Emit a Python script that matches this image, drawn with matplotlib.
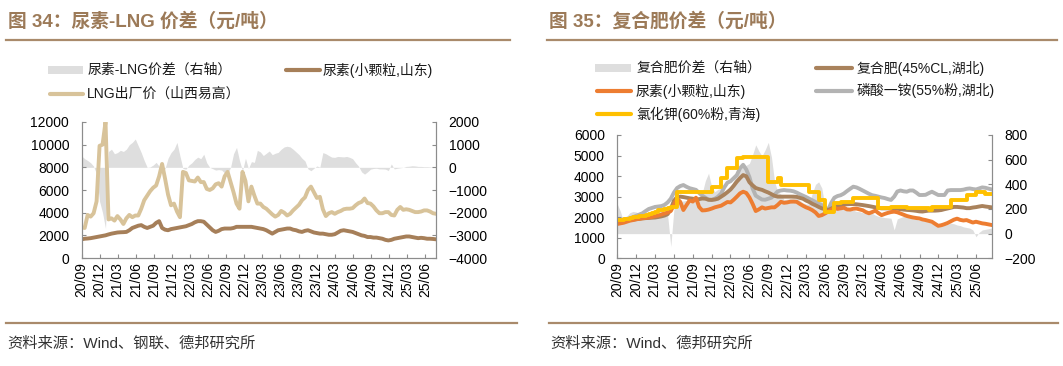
import numpy as np
import pandas as pd
import matplotlib
matplotlib.use('Agg')
import matplotlib.pyplot as plt
import matplotlib.dates as mdates
from matplotlib.lines import Line2D
from matplotlib.patches import Rectangle

plt.rcParams['font.family'] = ['Liberation Sans', 'Noto Sans CJK SC']

W, H = 1063, 366

# ---- 图34：半月频数据（2020/09 - 2025/07）----
dates_34 = pd.date_range('2020-09-01', '2025-07-25', periods=120)

lng_price = [
    2700, 2650, 3800, 3650, 3950, 5000, 9900, 10000,
    12000, 3400, 3500, 3300, 3700, 3400, 3000, 3500, 3800, 3600, 3750, 3750,
    4350, 5100, 5500, 5900, 6200, 6400, 7200, 8300, 7000, 5600, 4650, 4800,
    4100, 3600, 7600, 7500, 6850, 6800, 6750, 7100, 6700, 6700, 6100, 6000,
    6150, 6500, 6600, 6300, 7200, 7600, 6700, 5800, 4800, 4350, 7600, 6800,
    5000, 6300, 5500, 4800, 4800, 4500, 4350, 4100, 3850, 3650, 3800, 4150,
    4000, 3750, 3900, 4200, 4450, 4700, 5100, 5350, 6000, 6300, 5800, 5300,
    5400, 4300, 3700, 3950, 4050, 3900, 4050, 4150, 4300, 4350, 4350, 4400,
    4650, 4850, 4950, 5250, 4850, 4800, 4550, 4200, 3950, 3950, 4050, 4050,
    3800, 3750, 4250, 4500, 4250, 4300, 4250, 4150, 4050, 4050, 4100, 4200,
    4200, 4100, 3950, 3900,
]

urea_sd_34 = [
    1650, 1700, 1720, 1750, 1800, 1850, 1900, 1950,
    2000, 2080, 2150, 2200, 2250, 2270, 2280, 2300, 2450, 2650, 2750, 2850,
    2900, 2750, 2650, 2750, 2850, 3100, 3250, 2650, 2500, 2450, 2550, 2600,
    2650, 2700, 2750, 2800, 2900, 3000, 3150, 3250, 3250, 3200, 2950, 2700,
    2450, 2300, 2400, 2550, 2600, 2600, 2600, 2650, 2750, 2750, 2750, 2750,
    2750, 2750, 2700, 2650, 2600, 2550, 2450, 2300, 2150, 2300, 2450, 2500,
    2550, 2600, 2600, 2500, 2450, 2350, 2300, 2400, 2450, 2350, 2250, 2200,
    2150, 2150, 2100, 2050, 2050, 2100, 2250, 2400, 2450, 2400, 2350, 2300,
    2200, 2100, 2000, 1950, 1850, 1850, 1800, 1800, 1750, 1700, 1600, 1550,
    1600, 1700, 1750, 1800, 1850, 1900, 1900, 1850, 1800, 1750, 1780, 1750,
    1700, 1700, 1680, 1650,
]

spread_34 = [
    500, 380, 300, 200, 50, -300, -1500, -2000,
    -2700, 700, 800, 600, 650, 750, 700, 800, 1000, 1100, 1250, 950,
    650, 300, 0, 20, 100, 220, 50, -200, -50, 400, 650, 800,
    1100, 500, -50, -80, 100, 200, 350, 450, 380, 580, 200, 0,
    -60, -120, -100, -120, -250, -280, 0, 600, 880, 300, -150, 400,
    -50, 250, 220, 750, 680, 520, 620, 720, 560, 620, 660, 800,
    900, 930, 900, 800, 680, 560, 400, 280, -70, -150, -40, 60,
    10, 650, 600, 520, 450, 440, 480, 470, 460, 480, 440, 380,
    200, 50, -200, -300, -200, -80, -50, -40, -70, -70, -80, -140,
    150, -70, -40, -20, 0, 40, 50, 70, 60, 40, 40, 30,
    30, 20, 10, 0,
]

# ---- 图35：半月频数据（2020/09 - 2025/08）----
dates_35 = pd.date_range('2020-09-01', '2025-08-16', periods=120)

compound_hb = [
    1780, 1800, 1820, 1840, 1860, 1880, 1900, 1920,
    1945, 1955, 1965, 1975, 1985, 2010, 2040, 2080, 2150, 2400, 2800, 2980,
    3000, 2980, 2950, 2920, 2900, 2870, 2880, 2910, 2900, 2850, 2840, 2860,
    2900, 3000, 3100, 3220, 3350, 3530, 3730, 3900, 4050, 3990, 3700, 3550,
    3420, 3370, 3330, 3260, 3200, 3120, 3040, 3000, 3000, 3000, 3000, 3000,
    3000, 2990, 2940, 2900, 2810, 2740, 2650, 2580, 2500, 2430, 2390, 2350,
    2420, 2500, 2540, 2580, 2610, 2630, 2640, 2640, 2630, 2610, 2590, 2565,
    2540, 2510, 2480, 2450, 2430, 2430, 2430, 2430, 2430, 2410, 2390, 2370,
    2355, 2345, 2330, 2310, 2285, 2275, 2300, 2320, 2320, 2320, 2330, 2350,
    2390, 2425, 2460, 2500, 2500, 2485, 2470, 2440, 2440, 2470, 2490, 2520,
    2545, 2520, 2500, 2480,
]

urea_sd_35 = [
    1670, 1700, 1730, 1780, 1830, 1860, 1900, 1920,
    1945, 1960, 1980, 2010, 2050, 2080, 2130, 2180, 2230, 2300, 2600, 2900,
    2750, 2350, 2590, 2820, 2760, 2950, 2500, 2330, 2340, 2370, 2420, 2480,
    2520, 2560, 2650, 2740, 2720, 2850, 3000, 3160, 3240, 3180, 2960, 2650,
    2300, 2380, 2480, 2420, 2450, 2480, 2480, 2600, 2750, 2700, 2720, 2755,
    2760, 2750, 2650, 2560, 2480, 2420, 2340, 2230, 2060, 2100, 2180, 2270,
    2360, 2470, 2400, 2430, 2460, 2380, 2370, 2410, 2420, 2380, 2340, 2250,
    2190, 2250, 2320, 2200, 2100, 2160, 2210, 2250, 2270, 2240, 2180, 2120,
    2060, 2020, 1985, 1960, 1940, 1890, 1860, 1820, 1780, 1680, 1580, 1610,
    1660, 1720, 1800, 1880, 1930, 1870, 1840, 1860, 1800, 1740, 1780, 1740,
    1700, 1680, 1650, 1620,
]

map_hb = [
    1830, 1860, 1890, 1920, 1945, 2000, 2070, 2130,
    2190, 2300, 2400, 2450, 2500, 2520, 2540, 2600, 2720, 2900, 3200, 3420,
    3515, 3565, 3480, 3410, 3370, 3330, 3180, 3050, 2950, 2850, 2850, 2900,
    3000, 3150, 3450, 3680, 3750, 3900, 4050, 4380, 4550, 4320, 3950, 3400,
    3050, 2950, 2860, 2850, 2900, 2950, 3100, 3260, 3300, 3320, 3300, 3290,
    3260, 3200, 3120, 3050, 2980, 2900, 2820, 2740, 2660, 2590, 2480, 2350,
    2700, 2950, 3030, 3070, 3150, 3270, 3380, 3485, 3450, 3380, 3300, 3220,
    3140, 3070, 3040, 3000, 2960, 2930, 2880, 2840, 3000, 3250, 3300, 3260,
    3240, 3300, 3300, 3200, 3080, 3080, 3090, 3170, 3240, 3160, 3080, 3080,
    3080, 3300, 3320, 3320, 3320, 3320, 3340, 3380, 3400, 3370, 3350, 3400,
    3450, 3430, 3390, 3350,
]

kcl_qh = [
    1860, 1880, 1900, 1930, 1980, 2000, 2030, 2050,
    2060, 2100, 2150, 2220, 2260, 2330, 2350, 2380, 2430, 2480, 2510, 3240,
    3240, 3240, 3240, 3240, 3240, 3240, 3240, 3240, 3240, 3240, 3480, 3480,
    3480, 3890, 3890, 4380, 4380, 4380, 4860, 4860, 4940, 4940, 4940, 4940,
    4940, 4940, 4940, 4940, 3730, 3730, 3730, 3890, 3565, 3565, 3565, 3565,
    3565, 3565, 3565, 3565, 3565, 3240, 3240, 3240, 2835, 2835, 2270, 2270,
    2270, 2670, 2670, 2755, 2755, 2755, 2755, 2920, 2920, 2920, 2920, 2920,
    2920, 2920, 2920, 2430, 2430, 2430, 2430, 2480, 2480, 2480, 2480, 2480,
    2430, 2430, 2430, 2430, 2430, 2430, 2430, 2350, 2510, 2510, 2510, 2510,
    2510, 2510, 2835, 2835, 2835, 2835, 2835, 3080, 3080, 3080, 3240, 3240,
    3240, 3130, 3130, 3130,
]

spread_35 = [
    240, 180, 90, 140, 170, 180, 175, 165,
    160, 150, 155, 165, 175, 185, 185, 170, 150, -105, 200, 240,
    260, 265, 270, 285, 300, 285, 270, 330, 430, 490, 380, 340,
    360, 370, 330, 330, 380, 430, 500, 525, 545, 555, 570, 640,
    720, 670, 630, 680, 740, 620, 420, 340, 320, 275, 280, 285,
    295, 290, 270, 250, 240, 240, 330, 400, 420, 370, 220, 195,
    205, 200, 190, 195, 205, 200, 190, 190, 180, 178, 170, 165,
    165, 165, 150, 140, 135, 130, 128, 125, 30, 120, 130, 140,
    135, 125, 120, 115, 110, 105, 100, 95, 85, 80, 70, 70,
    70, 75, 85, 80, 70, 65, 55, 50, 45, 30, -25, 10,
    30, 35, 40, 45,
]

TITLE_C = '#9c7a58'
RULE_C = '#a98a6b'
AXIS_C = '#8c8c8c'
AREA_C = '#dedede'


def fx(x):
    return x / W


def fy(y):
    return 1 - y / H


fig = plt.figure(figsize=(W / 100, H / 100), dpi=100)


def make_axes(x0, y0, x1, y1):
    ax = fig.add_axes([fx(x0), fy(y1), (x1 - x0) / W, (y1 - y0) / H])
    ax2 = ax.twinx()
    ax.set_zorder(ax2.get_zorder() + 1)
    ax.patch.set_visible(False)
    for a in (ax, ax2):
        a.spines['top'].set_visible(False)
        for s in ('left', 'right', 'bottom'):
            a.spines[s].set_color(AXIS_C)
            a.spines[s].set_linewidth(0.8)
        a.tick_params(axis='y', direction='in', length=3, color=AXIS_C,
                      labelsize=10, pad=9)
    ax.tick_params(axis='x', direction='in', length=3, color=AXIS_C,
                   labelsize=10, pad=3)
    ax.xaxis.set_major_locator(mdates.MonthLocator(bymonth=[3, 6, 9, 12]))
    ax.xaxis.set_major_formatter(mdates.DateFormatter('%y/%m'))
    plt.setp(ax.get_xticklabels(), rotation=90, ha='center', va='top')
    return ax, ax2


def legend_item(kind, color, x0, x1, y, label, tx):
    if kind == 'area':
        fig.add_artist(Rectangle((fx(x0), fy(y + 4)), (x1 - x0) / W, 8 / H,
                                 transform=fig.transFigure, color=color, lw=0))
    else:
        fig.add_artist(Line2D([fx(x0), fx(x1)], [fy(y), fy(y)],
                              transform=fig.transFigure, color=color, lw=3,
                              solid_capstyle='round'))
    fig.text(fx(tx), fy(y), label, fontsize=10, va='center', ha='left',
             color='#1a1a1a')


def header(x0, x1, text):
    fig.text(fx(x0 + 2), fy(21), text, fontsize=13.5, weight='bold',
             color=TITLE_C, va='center', ha='left')
    fig.add_artist(Line2D([fx(x0), fx(x1)], [fy(40), fy(40)],
                          transform=fig.transFigure, color=RULE_C, lw=1.6))


def footer(x0, x1, text):
    fig.add_artist(Line2D([fx(x0), fx(x1)], [fy(323), fy(323)],
                          transform=fig.transFigure, color=RULE_C, lw=1.6))
    fig.text(fx(x0 + 1), fy(344), text, fontsize=11, color='#333333',
             va='center', ha='left')


# ---- 图34 ----
header(6, 510, '图 34：尿素-LNG 价差（元/吨）')
ax, ax2 = make_axes(81.7, 122, 436, 258)
ax2.fill_between(dates_34, 0, spread_34, color=AREA_C, lw=0)
ax.plot(dates_34, lng_price, color='#d8c39a', lw=2.8)
ax.plot(dates_34, urea_sd_34, color='#a67f59', lw=2.8)
ax.set_ylim(0, 12000)
ax.set_yticks(np.arange(0, 12001, 2000))
ax2.set_ylim(-4000, 2000)
ax2.set_yticks(np.arange(-4000, 2001, 1000))
ax.set_xlim(dates_34[0], dates_34[-1])

legend_item('area', AREA_C, 48, 83, 70, '尿素-LNG价差（右轴）', 88)
legend_item('line', '#a67f59', 286, 320, 70, '尿素(小颗粒,山东)', 323)
legend_item('line', '#d8c39a', 50, 83, 94, 'LNG出厂价（山西易高）', 87)
footer(6, 517, '资料来源：Wind、钢联、德邦研究所')

# ---- 图35 ----
header(547, 1057, '图 35：复合肥价差（元/吨）')
bx, bx2 = make_axes(617.3, 135, 991.7, 258.3)
bx2.fill_between(dates_35, 0, spread_35, color=AREA_C, lw=0)
bx.plot(dates_35, map_hb, color='#b3b3b3', lw=2.8)
bx.plot(dates_35, compound_hb, color='#a9825c', lw=2.8)
bx.plot(dates_35, urea_sd_35, color='#ed7d31', lw=2.8)
bx.plot(dates_35, kcl_qh, color='#ffc000', lw=2.8, drawstyle='steps-post')
bx.set_ylim(0, 6000)
bx.set_yticks(np.arange(0, 6001, 1000))
bx2.set_ylim(-200, 800)
bx2.set_yticks(np.arange(-200, 801, 200))
bx.set_xlim(dates_35[0], dates_35[-1])

legend_item('area', AREA_C, 595, 631, 68, '复合肥价差（右轴）', 637)
legend_item('line', '#a9825c', 816, 852, 68, '复合肥(45%CL,湖北)', 857)
legend_item('line', '#ed7d31', 597, 631, 91, '尿素(小颗粒,山东)', 636)
legend_item('line', '#b3b3b3', 816, 852, 91, '磷酸一铵(55%粉,湖北)', 857)
legend_item('line', '#ffc000', 597, 631, 114, '氯化钾(60%粉,青海)', 636)
footer(549, 1058, '资料来源：Wind、德邦研究所')

fig.savefig('out.png', dpi=100)
